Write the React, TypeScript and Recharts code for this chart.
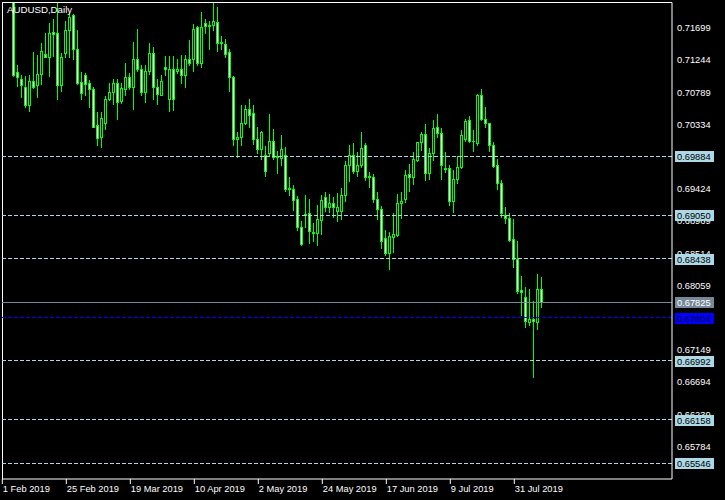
import React from 'react';
import { ComposedChart, Bar, XAxis, YAxis, ReferenceLine } from 'recharts';

// OHLC values per trading day starting 1 Feb 2019 (AUDUSD daily)
const opens = [
  0.7265, 0.724, 0.7235, 0.724, 0.71075, 0.70972, 0.70859, 0.70604, 0.70944, 0.70887,
  0.71047, 0.7133, 0.71292, 0.71641, 0.71631, 0.70887, 0.71349, 0.71669, 0.71876, 0.71396,
  0.70934, 0.71028, 0.70915, 0.7083, 0.70322, 0.70152, 0.7035, 0.70689, 0.70793, 0.70915,
  0.70661, 0.7083, 0.71, 0.70868, 0.71264, 0.71113, 0.70793, 0.71094, 0.71349, 0.70859,
  0.70755, 0.71151, 0.70699, 0.71113, 0.71094, 0.71123, 0.71028, 0.71254, 0.71254, 0.71707,
  0.71207, 0.71763, 0.71726, 0.71744, 0.71782, 0.71481, 0.71471, 0.71358, 0.7101, 0.70124,
  0.70152, 0.7035, 0.70557, 0.70491, 0.70133, 0.69983, 0.69898, 0.69926, 0.70096, 0.69879,
  0.6986, 0.69907, 0.69427, 0.69427, 0.69285, 0.6889, 0.69059, 0.69078, 0.68795, 0.68795,
  0.68984, 0.69314, 0.69163, 0.69219, 0.69106, 0.69106, 0.69332, 0.69756, 0.69898, 0.69672,
  0.69756, 0.70039, 0.69596, 0.69596, 0.69276, 0.69134, 0.68729, 0.68512, 0.68748, 0.68776,
  0.69219, 0.69285, 0.69634, 0.69596, 0.69831, 0.70086, 0.70199, 0.69643, 0.69926, 0.70293,
  0.70208, 0.69709, 0.69718, 0.69257, 0.69558, 0.69737, 0.70123, 0.70397, 0.70095, 0.70076,
  0.70745, 0.70416, 0.7035, 0.70039, 0.69756, 0.69502, 0.69049, 0.69012, 0.6871, 0.68427,
  0.67994, 0.679, 0.67542, 0.67589, 0.67542, 0.68003,
];
const highs = [
  0.729, 0.726, 0.7296, 0.725, 0.7117, 0.71038, 0.71019, 0.71028, 0.71358, 0.71311,
  0.71481, 0.71622, 0.71773, 0.71829, 0.72046, 0.71339, 0.71792, 0.71923, 0.71895, 0.71669,
  0.71075, 0.71066, 0.70962, 0.70859, 0.7051, 0.7051, 0.70736, 0.70915, 0.70981, 0.70972,
  0.70915, 0.71198, 0.71066, 0.71499, 0.71688, 0.7117, 0.7117, 0.71481, 0.71434, 0.70981,
  0.71028, 0.71302, 0.71302, 0.71302, 0.71264, 0.71311, 0.71311, 0.71528, 0.71754, 0.71726,
  0.71923, 0.7182, 0.71792, 0.72046, 0.71989, 0.71584, 0.71537, 0.71396, 0.71019, 0.70227,
  0.70604, 0.70604, 0.70699, 0.70604, 0.70293, 0.70237, 0.7003, 0.70482, 0.70275, 0.69964,
  0.7018, 0.70011, 0.69587, 0.69474, 0.69323, 0.68965, 0.69332, 0.69276, 0.68946, 0.69191,
  0.69332, 0.6938, 0.69351, 0.69304, 0.69361, 0.69436, 0.69813, 0.70048, 0.70067, 0.69945,
  0.70227, 0.70067, 0.69662, 0.69634, 0.69379, 0.69181, 0.68842, 0.68814, 0.69078, 0.69351,
  0.69379, 0.6969, 0.69775, 0.69944, 0.70086, 0.70227, 0.7034, 0.70001, 0.70397, 0.70482,
  0.70284, 0.69944, 0.69756, 0.6969, 0.69888, 0.70255, 0.70406, 0.70453, 0.70255, 0.70764,
  0.7083, 0.70576, 0.70359, 0.70086, 0.69841, 0.69549, 0.69162, 0.69078, 0.68993, 0.68682,
  0.68192, 0.68032, 0.68003, 0.67834, 0.6822, 0.68173,
];
const lows = [
  0.7225, 0.7215, 0.722, 0.71019, 0.70878, 0.70727, 0.70576, 0.70529, 0.70849, 0.70717,
  0.70906, 0.71283, 0.71019, 0.71302, 0.70689, 0.70802, 0.71283, 0.71283, 0.71264, 0.70906,
  0.70689, 0.70746, 0.70576, 0.70293, 0.70039, 0.7002, 0.70265, 0.7068, 0.70623, 0.70406,
  0.70633, 0.70746, 0.7084, 0.70557, 0.71094, 0.70746, 0.70651, 0.71047, 0.70689, 0.70623,
  0.70746, 0.71028, 0.7052, 0.70538, 0.71066, 0.70915, 0.70868, 0.71179, 0.71085, 0.7117,
  0.71151, 0.71631, 0.71396, 0.71669, 0.71368, 0.71405, 0.71283, 0.70802, 0.70039, 0.69869,
  0.70048, 0.70341, 0.70303, 0.70058, 0.69926, 0.69841, 0.69606, 0.69898, 0.69851, 0.69643,
  0.69766, 0.69398, 0.69342, 0.69125, 0.68842, 0.68635, 0.6889, 0.68654, 0.68692, 0.68635,
  0.68786, 0.69116, 0.69097, 0.69031, 0.68974, 0.69003, 0.69257, 0.6954, 0.69643, 0.69606,
  0.69728, 0.69549, 0.69455, 0.69238, 0.69002, 0.68588, 0.68484, 0.68296, 0.68531, 0.68757,
  0.69012, 0.69238, 0.69398, 0.69492, 0.69812, 0.69973, 0.69549, 0.69558, 0.69831, 0.70152,
  0.69568, 0.69662, 0.692, 0.69096, 0.69511, 0.69718, 0.70095, 0.70086, 0.69963, 0.70048,
  0.70397, 0.70303, 0.69963, 0.69728, 0.69417, 0.69021, 0.68946, 0.68682, 0.68314, 0.67947,
  0.67645, 0.67466, 0.67495, 0.6676, 0.67448, 0.67759,
];
const closes = [
  0.724, 0.7235, 0.724, 0.71038, 0.71, 0.70887, 0.70604, 0.70944, 0.70868, 0.71047,
  0.71368, 0.71292, 0.71631, 0.71613, 0.70887, 0.71283, 0.71669, 0.71848, 0.71396, 0.70925,
  0.70774, 0.70906, 0.7083, 0.70303, 0.70143, 0.70425, 0.70689, 0.70793, 0.70915, 0.70651,
  0.70849, 0.71, 0.70868, 0.71264, 0.71113, 0.70793, 0.71094, 0.71339, 0.70859, 0.70765,
  0.70944, 0.71113, 0.71123, 0.70699, 0.71113, 0.71028, 0.71254, 0.71207, 0.71688, 0.71207,
  0.71716, 0.71726, 0.71735, 0.71792, 0.7149, 0.71499, 0.7133, 0.7101, 0.70133, 0.70152,
  0.7035, 0.70548, 0.70472, 0.70124, 0.69992, 0.70227, 0.69672, 0.70105, 0.69869, 0.69888,
  0.69983, 0.69427, 0.69436, 0.69266, 0.6889, 0.68645, 0.69069, 0.68824, 0.68814, 0.68993,
  0.69266, 0.69163, 0.69219, 0.69163, 0.69163, 0.69332, 0.69756, 0.69898, 0.69681, 0.69756,
  0.70001, 0.69586, 0.69605, 0.69276, 0.69134, 0.68682, 0.68512, 0.68757, 0.68786, 0.69219,
  0.69247, 0.69615, 0.69596, 0.69841, 0.70086, 0.70199, 0.69643, 0.69926, 0.70284, 0.70208,
  0.69756, 0.69718, 0.69257, 0.69568, 0.69728, 0.7018, 0.70378, 0.70105, 0.70105, 0.70745,
  0.70416, 0.7035, 0.70039, 0.69747, 0.69502, 0.69078, 0.69012, 0.68701, 0.68427, 0.67985,
  0.67966, 0.67561, 0.67589, 0.67551, 0.68013, 0.67825,
];

const tickIndices = [0, 16, 32, 48, 64, 80, 96, 112, 128];
const tickLabels = [
  '1 Feb 2019', '25 Feb 2019', '19 Mar 2019', '10 Apr 2019', '2 May 2019',
  '24 May 2019', '17 Jun 2019', '9 Jul 2019', '31 Jul 2019',
];
const priceTicks = [
  0.71699, 0.71244, 0.70789, 0.70334, 0.69879, 0.69424, 0.68969, 0.68514,
  0.68059, 0.67604, 0.67149, 0.66694, 0.66239, 0.65784,
];
const levelLines = [0.69884, 0.6905, 0.68438, 0.66992, 0.66158, 0.65546];
const bidPrice = 0.67825;
const askPrice = 0.67604;

const Y_MIN = 0.65324;
const Y_MAX = 0.72058;
const X_MIN = -0.075;
const X_MAX = 167.425;

const MONTHS = ['Jan', 'Feb', 'Mar', 'Apr', 'May', 'Jun', 'Jul', 'Aug', 'Sep', 'Oct', 'Nov', 'Dec'];
const dates: string[] = [];
{
  const d = new Date(Date.UTC(2019, 1, 1));
  while (dates.length < opens.length) {
    const wd = d.getUTCDay();
    if (wd !== 0 && wd !== 6) dates.push(`${d.getUTCDate()} ${MONTHS[d.getUTCMonth()]} ${d.getUTCFullYear()}`);
    d.setUTCDate(d.getUTCDate() + 1);
  }
}

const data = opens.map((o, i) => ({
  i,
  date: dates[i],
  o,
  h: highs[i],
  l: lows[i],
  c: closes[i],
  range: [lows[i], highs[i]],
}));

const GREEN = '#00FF00';
const FONT = '"Liberation Sans", Arial, sans-serif';

const Candle = (props: any) => {
  const { x, y, width, height, payload } = props;
  if (payload == null || x == null) return null;
  const top = Math.min(y, y + height);
  const h = Math.abs(height);
  const { o, c, l } = payload;
  const hi = payload.h;
  const span = hi - l;
  const py = (p: number) => (span === 0 ? top : top + ((hi - p) / span) * h);
  const cx = Math.floor(x + width / 2);
  const yH = Math.round(py(hi));
  const yL = Math.round(py(l));
  const bTop = Math.round(py(Math.max(o, c)));
  const bBot = Math.round(py(Math.min(o, c)));
  const bear = c < o;
  return (
    <g shapeRendering="crispEdges">
      <rect x={cx} y={yH} width={1} height={Math.max(1, yL - yH + 1)} fill={GREEN} />
      <rect x={cx - 1} y={bTop} width={3} height={Math.max(1, bBot - bTop + 1)} fill={GREEN} />
      {bBot - bTop >= 2 && (
        <rect x={cx} y={bTop + 1} width={1} height={bBot - bTop - 1} fill={bear ? '#FFFFFF' : '#000000'} />
      )}
    </g>
  );
};

const PriceTag = (props: any) => {
  const { viewBox, text, bg, fg } = props;
  if (!viewBox) return null;
  const yy = Math.round(viewBox.y);
  const xr = viewBox.x + viewBox.width;
  return (
    <g>
      <rect x={xr + 3} y={yy - 5} width={39} height={11} fill={bg} shapeRendering="crispEdges" />
      <text x={xr + 5} y={yy + 4} fill={fg} fontSize={9.3} fontFamily={FONT}>
        {text}
      </text>
    </g>
  );
};

const PriceTickText = (props: any) => {
  const { viewBox, text } = props;
  if (!viewBox) return null;
  const xr = viewBox.x + viewBox.width;
  return (
    <text x={xr + 5} y={viewBox.y + 3.4} fill="#FFFFFF" fontSize={9.3} fontFamily={FONT}>
      {text}
    </text>
  );
};

const XTick = (props: any) => {
  const { x, y, payload } = props;
  const idx = tickIndices.indexOf(payload.value);
  return (
    <text x={x + 0.5} y={y + 6} fill="#FFFFFF" fontSize={9.3} fontFamily={FONT} textAnchor="start">
      {idx >= 0 ? tickLabels[idx] : ''}
    </text>
  );
};

export default function App() {
  return (
    <div style={{ position: 'fixed', left: 0, top: 0, width: 725, height: 500, background: '#000000' }}>
      <ComposedChart
        width={725}
        height={500}
        data={data}
        margin={{ top: 2.5, right: 0, left: 2, bottom: 0 }}
      >
        <XAxis
          dataKey="i"
          type="number"
          domain={[X_MIN, X_MAX]}
          allowDataOverflow
          ticks={tickIndices}
          interval={0}
          height={21}
          axisLine={{ stroke: '#FFFFFF' }}
          tickLine={{ stroke: '#FFFFFF' }}
          tickSize={5}
          tick={<XTick />}
        />
        <YAxis
          orientation="right"
          type="number"
          domain={[Y_MIN, Y_MAX]}
          allowDataOverflow
          ticks={priceTicks}
          interval={0}
          width={53}
          axisLine={{ stroke: '#FFFFFF' }}
          tickLine={{ stroke: '#FFFFFF' }}
          tickSize={4}
          tick={false}
        />
        <ReferenceLine y={Y_MAX} stroke="#FFFFFF" ifOverflow="extendDomain" shapeRendering="crispEdges" />
        <ReferenceLine x={X_MIN} stroke="#FFFFFF" ifOverflow="extendDomain" shapeRendering="crispEdges" />
        <Bar dataKey="range" barSize={3} isAnimationActive={false} shape={<Candle />} />
        {priceTicks.map((t) => (
          <ReferenceLine
            key={'t' + t}
            y={t}
            stroke="none"
            label={(p: any) => <PriceTickText {...p} text={t.toFixed(5)} />}
          />
        ))}
        {levelLines.map((v) => (
          <ReferenceLine
            key={v}
            y={v}
            stroke="#ADD8E6"
            strokeDasharray="4 2"
            shapeRendering="crispEdges"
            label={(p: any) => <PriceTag {...p} text={v.toFixed(5)} bg="#ADD8E6" fg="#000000" />}
          />
        ))}
        <ReferenceLine
          y={bidPrice}
          stroke="#778899"
          shapeRendering="crispEdges"
          label={(p: any) => <PriceTag {...p} text={bidPrice.toFixed(5)} bg="#778899" fg="#FFFFFF" />}
        />
        <ReferenceLine
          y={askPrice}
          stroke="#0000FF"
          strokeDasharray="4 2"
          shapeRendering="crispEdges"
          label={(p: any) => <PriceTag {...p} text={askPrice.toFixed(5)} bg="#0000FF" fg="#000033" />}
        />
      </ComposedChart>
      <div
        style={{
          position: 'absolute',
          left: 7,
          top: 3.6,
          color: '#FFFFFF',
          fontSize: 9.7,
          lineHeight: '12px',
          fontFamily: FONT,
          whiteSpace: 'nowrap',
        }}
      >
        AUDUSD,Daily
      </div>
    </div>
  );
}
